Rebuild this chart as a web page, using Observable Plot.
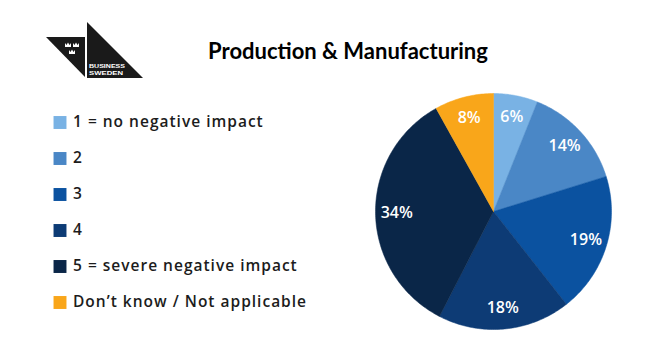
<!DOCTYPE html>
<html>
<head>
<meta charset="utf-8">
<script src="https://cdn.jsdelivr.net/npm/d3@7"></script>
<script src="https://cdn.jsdelivr.net/npm/@observablehq/plot@0.6"></script>
<style>
  html, body { margin: 0; padding: 0; background: #fff; }
  #root { position: relative; width: 665px; height: 360px; overflow: hidden; }
  #root > svg, #root > div { position: absolute; }
</style>
</head>
<body>
<div id="root">
  <svg id="deco" width="665" height="360" style="left:0;top:0">
    <!-- Business Sweden logo -->
    <polygon points="46,37 85,37 85,77" fill="#1a1a1a"/>
    <polygon points="87,22 87,78 143,78" fill="#1a1a1a"/>
    <g fill="#fff">
      <path d="M65,47 L65,43 L66.5,45 L68,42.5 L69.5,45 L71,43 L71,47 Z"/>
      <path d="M73,47 L73,43 L74.5,45 L76,42.5 L77.5,45 L79,43 L79,47 Z"/>
      <path d="M69,54 L69,50 L70.5,52 L72,49.5 L73.5,52 L75,50 L75,54 Z"/>
    </g>
    <text x="89" y="67.5" fill="#fff" font-family="Liberation Sans, Arial, sans-serif" font-weight="700" font-size="6.2" textLength="36" lengthAdjust="spacingAndGlyphs">BUSINESS</text>
    <text x="89" y="75" fill="#fff" font-family="Liberation Sans, Arial, sans-serif" font-weight="700" font-size="6.2" textLength="34" lengthAdjust="spacingAndGlyphs">SWEDEN</text>
    <text id="title" x="348" y="59" text-anchor="middle" fill="#000" font-family="Lato, sans-serif" font-weight="700" font-size="22">Production &amp; Manufacturing</text>
  </svg>
</div>
<script>
// ---- data ----
const categories = [
  "1 = no negative impact",
  "2",
  "3",
  "4",
  "5 = severe negative impact",
  "Don’t know / Not applicable"
];
const shares = [6, 14, 19, 18, 34, 8];
const colors = ["#79b2e4", "#4a87c6", "#0b52a0", "#0d3b75", "#0a2648", "#f9a61a"];

const root = document.getElementById("root");
const data = categories.map((c, i) => ({category: c, value: shares[i]}));

// ---- pie geometry from the values ----
const arcs = d3.pie().sort(null).value(d => d.value)(data);
const slicePts = [];
const labels = [];
arcs.forEach(a => {
  const key = a.data.category;
  slicePts.push({key, x: 0, y: 0});
  const n = Math.max(2, Math.ceil((a.endAngle - a.startAngle) / (Math.PI / 180)));
  for (let k = 0; k <= n; ++k) {
    const t = a.startAngle + (a.endAngle - a.startAngle) * k / n;
    slicePts.push({key, x: Math.sin(t), y: Math.cos(t)});
  }
  slicePts.push({key, x: 0, y: 0});
  const m = (a.startAngle + a.endAngle) / 2;
  labels.push({key, x: 0.82 * Math.sin(m), y: 0.82 * Math.cos(m), text: a.data.value + "%"});
});

const pie = Plot.plot({
  width: 240,
  height: 240,
  margin: 0,
  inset: 2,
  x: {domain: [-1, 1], axis: null},
  y: {domain: [-1, 1], axis: null},
  color: {domain: categories, range: colors},
  marks: [
    Plot.line(slicePts, {x: "x", y: "y", z: "key", fill: "key", stroke: "key", strokeWidth: 0.5, curve: "linear"}),
    Plot.text(labels, {x: "x", y: "y", text: "text", fill: "white", fontSize: 16, fontWeight: 600,
      fontFamily: "Open Sans, sans-serif", style: {letterSpacing: "0.5px"}})
  ]
});
pie.style.left = "373px";
pie.style.top = "91px";
root.appendChild(pie);

// ---- legend ----
const legend = Plot.plot({
  width: 340,
  height: 360,
  marginLeft: 59.5,
  marginRight: 0,
  marginTop: 0,
  marginBottom: 0,
  y: {type: "point", domain: categories, range: [122, 302], padding: 0, axis: null},
  color: {domain: categories, range: colors},
  marks: [
    Plot.dot(categories, {y: d => d, frameAnchor: "left", symbol: "square", r: 7.3, fill: d => d, stroke: null}),
    Plot.text(categories, {y: d => d, frameAnchor: "left", dx: 13, textAnchor: "start", text: d => d,
      fill: "#1c1c1c", fontSize: 15.5, fontWeight: 600, fontFamily: "Open Sans, sans-serif"})
  ]
});
legend.querySelectorAll("text").forEach(t => t.style.letterSpacing = "1px");
legend.style.left = "0px";
legend.style.top = "0px";
root.appendChild(legend);
</script>
</body>
</html>
